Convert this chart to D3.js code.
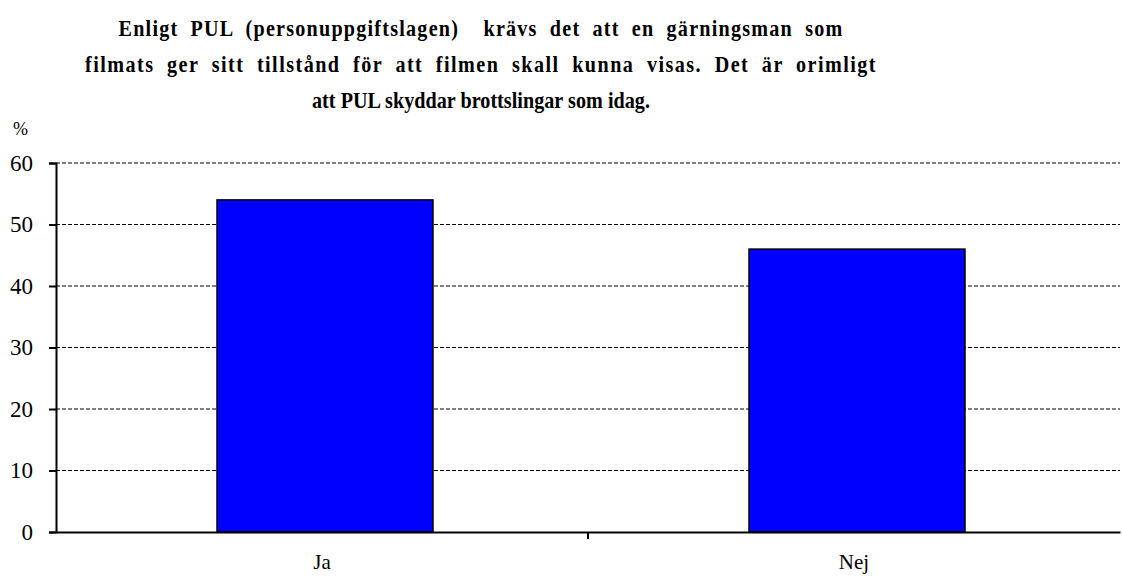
<!DOCTYPE html>
<html>
<head>
<meta charset="utf-8">
<script src="https://cdn.jsdelivr.net/npm/d3@7"></script>
<style>
  body { margin: 0; background: #fff; }
  svg { display: block; }
</style>
</head>
<body>
<script>
// Chart data
var categories = ["Ja", "Nej"];
var values = [54, 46];
var yTicks = [0, 10, 20, 30, 40, 50, 60];
var titleLines = [
    "Enligt PUL (personuppgiftslagen)  krävs det att en gärningsman som",
    "filmats ger sitt tillstånd för att filmen skall kunna visas. Det är orimligt",
    "att PUL skyddar brottslingar som idag."
];

// layout
var w = 1122;
var h = 579;
var plotLeft = 56, plotRight = 1120, plotTop = 163, plotBottom = 532;
var titleWidths = [725, 792, 338];
var squeeze = 0.84;

var svg = d3.select("body")
    .append("svg")
    .attr("width", w)
    .attr("height", h)
    .style("font-family", "'Liberation Serif', 'Times New Roman', serif");

// Scales
var x = d3.scaleBand()
    .domain(categories)
    .range([plotLeft, plotRight])
    .padding(0);

var y = d3.scaleLinear()
    .domain([0, 60])
    .range([plotBottom, plotTop]);

// Title, condensed bold serif, spread to the reference widths
svg.append("g")
    .selectAll("text")
    .data(titleLines)
    .enter()
    .append("text")
    .attr("transform", function(d, i){ return "translate(481," + (36 + i * 36) + ") scale(" + squeeze + ",1)"; })
    .attr("text-anchor", "middle")
    .style("font-size", "24px")
    .style("font-weight", "bold")
    .style("white-space", "pre")
    .text(function(d){ return d; })
    .each(function(d, i){
        var natural = this.getComputedTextLength();
        var extra = titleWidths[i] / squeeze - natural;
        if (extra <= 0) return;
        var spaces = d.split(" ").length - 1;
        d3.select(this)
            .style("letter-spacing", (extra * 0.6 / d.length) + "px")
            .style("word-spacing", (extra * 0.4 / spaces) + "px");
    });

// Axis unit
svg.append("text")
    .attr("x", 13)
    .attr("y", 135)
    .style("font-size", "18px")
    .text("%");

// Gridlines
svg.append("g")
    .selectAll("line")
    .data(yTicks.filter(function(d){ return d > 0; }))
    .enter()
    .append("line")
    .attr("x1", plotLeft)
    .attr("x2", plotRight)
    .attr("y1", function(d){ return y(d); })
    .attr("y2", function(d){ return y(d); })
    .attr("stroke", function(d){ return d === 60 ? "#555" : "#000"; })
    .attr("stroke-width", function(d){ return d === 60 ? 1.5 : 1; })
    .attr("stroke-dasharray", "4,2");

// Bars
var barW = x.bandwidth() * 0.406;
svg.append("g")
    .selectAll("rect")
    .data(values)
    .enter()
    .append("rect")
    .attr("x", function(d, i){ return x(categories[i]) + x.bandwidth() / 2 - barW / 2 + 3; })
    .attr("y", function(d){ return y(d); })
    .attr("width", barW)
    .attr("height", function(d){ return y(0) - y(d); })
    .attr("fill", "#0000FF")
    .attr("stroke", "#000")
    .attr("stroke-width", 1.5);

// Y axis
var yAxis = svg.append("g")
    .attr("transform", "translate(" + plotLeft + ",0)")
    .call(d3.axisLeft(y).tickValues(yTicks).tickSize(7).tickPadding(16));
yAxis.select(".domain").attr("stroke-width", 2);
yAxis.selectAll(".tick line").attr("stroke-width", 2);
yAxis.selectAll("text")
    .style("font-family", "'Liberation Serif', serif")
    .style("font-size", "23px")
    .attr("fill", "#000");

// X axis
var xAxis = svg.append("g")
    .attr("transform", "translate(0," + plotBottom + ")")
    .call(d3.axisBottom(x).tickSize(0).tickPadding(22));
xAxis.select(".domain").attr("stroke-width", 2);
xAxis.selectAll("text")
    .style("font-family", "'Liberation Serif', serif")
    .style("font-size", "21px")
    .attr("fill", "#000");

// middle tick between categories
svg.append("line")
    .attr("x1", x("Nej"))
    .attr("x2", x("Nej"))
    .attr("y1", plotBottom)
    .attr("y2", plotBottom + 7)
    .attr("stroke", "#000")
    .attr("stroke-width", 2);
</script>
</body>
</html>
